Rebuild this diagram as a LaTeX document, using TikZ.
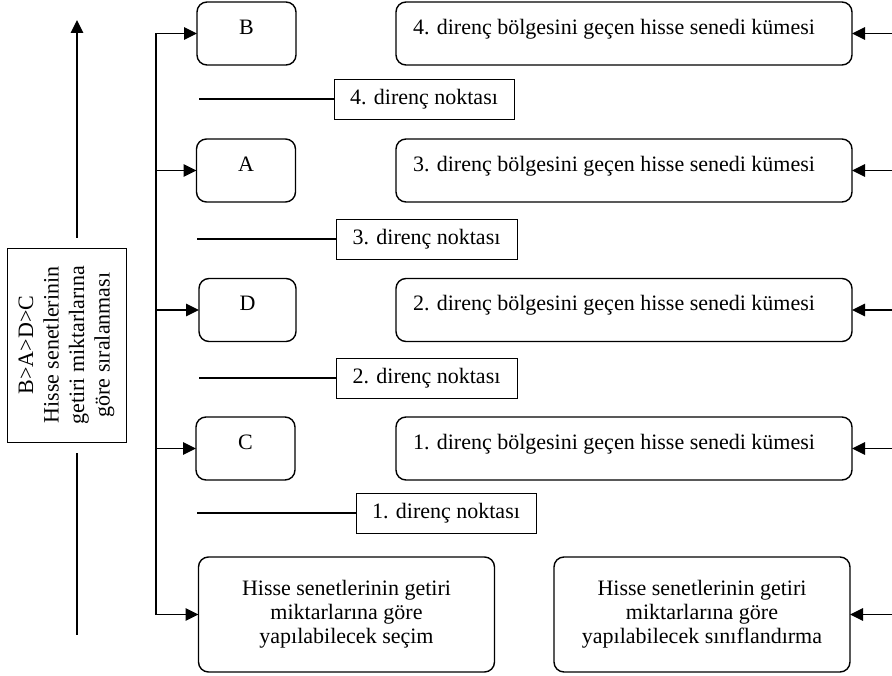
\documentclass[tikz,border=0pt]{standalone}
\usepackage{fontspec}
\setmainfont{Liberation Serif}[Ligatures=CommonOff]
\usetikzlibrary{arrows.meta}
\begin{document}
\begin{tikzpicture}[x=1pt,y=-1pt,
  txt/.style={font=\fontsize{22}{24}\selectfont},
  rbox/.style={txt, draw, line width=1.4pt, rounded corners=10pt, inner sep=0pt, outer sep=0pt,
    minimum height=63pt, text height=15pt, text depth=13pt},
  letterbox/.style={rbox, minimum width=99pt},
  setbox/.style={rbox, text width=422pt, inner xsep=17pt, align=flush left},
  bigbox/.style={rbox, minimum width=296pt, minimum height=115pt, align=center,
    text height=, text depth=},
  pointbox/.style={txt, draw, line width=0.8pt, inner sep=0pt, outer sep=0pt,
    minimum width=181pt, minimum height=40pt},
  arr/.style={line width=1.5pt, -{Triangle[length=13pt,width=12.5pt]}},
  plain/.style={line width=1.3pt}
]
\useasboundingbox (0,0) rectangle (892,676);

% left ranking box and axis
\node[draw, line width=0.8pt, rotate=90, minimum width=194pt, minimum height=119pt,
      inner sep=0pt, align=center, font=\fontsize{22}{25.5}\selectfont] (rank) at (66.5,345)
  {B>A>D>C\\Hisse senetlerinin\\getiri miktarlarına\\göre sıralanması};
\coordinate (upA) at (77,238);
\coordinate (upB) at (77,20);
\coordinate (loA) at (77,453);
\coordinate (loB) at (77,635);
\draw[arr] (upA) -- (upB);
\draw[plain] (loA) -- (loB);

% letter boxes
\node[letterbox] (B) at (246.5,33.5) {B};
\node[letterbox] (A) at (246,170.5) {A};
\node[letterbox, minimum width=97pt] (D) at (247.5,310) {D};
\node[letterbox] (C) at (245.5,448.5) {C};
\node[bigbox] (sel) at (346.5,614.5) {Hisse senetlerinin getiri\\miktarlarına göre\\yapılabilecek seçim};

% trunk
\coordinate (t1) at (156,33.5);
\coordinate (t2) at (156,170.5);
\coordinate (t3) at (156,310);
\coordinate (t4) at (156,448.5);
\coordinate (t5) at (156,614.5);
\draw[line width=1.5pt, line join=miter] (t1) -- (t5);
\draw[arr] (t1) -- (B);
\draw[arr] (t2) -- (A);
\draw[arr] (t3) -- (D);
\draw[arr] (t4) -- (C);
\draw[arr] (t5) -- (sel);

% resistance points
\node[pointbox, minimum width=180pt] (n4) at (424,99) {4. direnç noktası};
\node[pointbox] (n3) at (426.5,239) {3. direnç noktası};
\node[pointbox] (n2) at (426.5,378) {2. direnç noktası};
\node[pointbox, minimum width=180pt] (n1) at (446,513) {1. direnç noktası};
\coordinate (l4) at (199,99);
\coordinate (l3) at (197,239);
\coordinate (l2) at (199,378);
\coordinate (l1) at (197,513);
\draw[plain] (l4) -- (n4);
\draw[plain] (l3) -- (n3);
\draw[plain] (l2) -- (n2);
\draw[plain] (l1) -- (n1);

% right boxes
\node[setbox] (R4) at (624,33.5) {4. direnç bölgesini geçen hisse senedi kümesi};
\node[setbox] (R3) at (624,170.5) {3. direnç bölgesini geçen hisse senedi kümesi};
\node[setbox] (R2) at (624,310) {2. direnç bölgesini geçen hisse senedi kümesi};
\node[setbox] (R1) at (624,448.5) {1. direnç bölgesini geçen hisse senedi kümesi};
\node[bigbox] (cls) at (702,614.5) {Hisse senetlerinin getiri\\miktarlarına göre\\yapılabilecek sınıflandırma};

\coordinate (r4) at (892,33.5);
\coordinate (r3) at (892,170.5);
\coordinate (r2) at (892,310);
\coordinate (r1) at (892,448.5);
\coordinate (r0) at (892,614.5);
\draw[arr] (r4) -- (R4);
\draw[arr] (r3) -- (R3);
\draw[arr] (r2) -- (R2);
\draw[arr] (r1) -- (R1);
\draw[arr] (r0) -- (cls);
\end{tikzpicture}
\end{document}
